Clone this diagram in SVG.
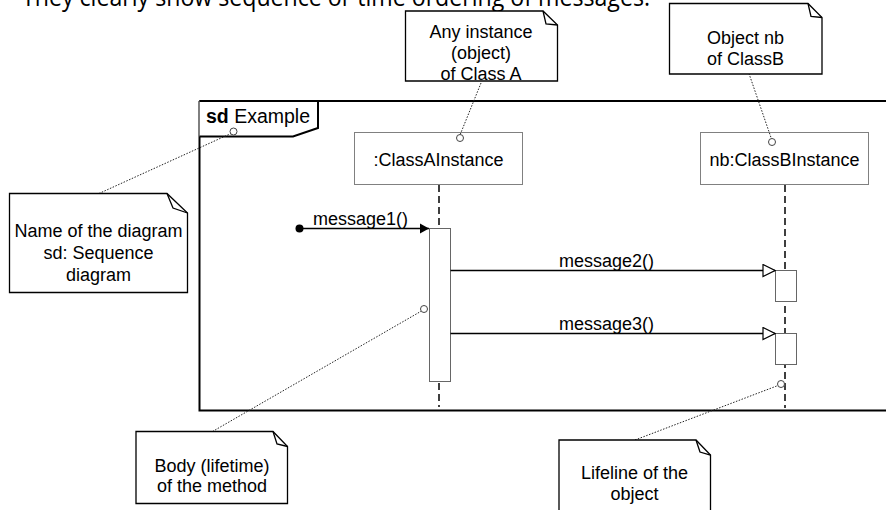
<svg xmlns="http://www.w3.org/2000/svg" width="886" height="510" viewBox="0 0 886 510">
<style>
text{font-family:"Liberation Sans",Arial,sans-serif;font-size:18px;fill:#000}
.c{text-anchor:middle}
.note{fill:#fff;stroke:#000;stroke-width:1.3}
.fold{fill:none;stroke:#000;stroke-width:1.3}
.head{fill:#fff;stroke:#808080;stroke-width:1}
.act{fill:#fff;stroke:#666;stroke-width:1}
.life{stroke:#000;stroke-width:1.5;stroke-dasharray:7 4;fill:none}
.dot{stroke:#222;stroke-width:1;stroke-dasharray:1.5 1.5;fill:none}
.pin{fill:#fff;stroke:#444;stroke-width:1}
.msg{stroke:#000;stroke-width:1.3;fill:none}
</style>
<defs>
<marker id="filled" markerWidth="10" markerHeight="12" refX="9" refY="6" orient="auto" markerUnits="userSpaceOnUse">
<path d="M0,1 L9,6 L0,11 Z" fill="#000"/>
</marker>
<marker id="open" markerWidth="14" markerHeight="14" refX="13" refY="7" orient="auto" markerUnits="userSpaceOnUse">
<path d="M1,1 L13,7 L1,13 Z" fill="#fff" stroke="#000" stroke-width="1.2"/>
</marker>
</defs>
<rect width="886" height="510" fill="#fff"/>
<text x="22" y="6" style="font-family:'Open Sans','DejaVu Sans',sans-serif;font-size:25px" textLength="628" lengthAdjust="spacingAndGlyphs">They clearly show sequence or time ordering of messages.</text>

<g id="frame">
<path d="M199.5,101 H886 M199.5,101 V410.5 H886" fill="none" stroke="#000" stroke-width="2"/>
<path d="M199.5,101 H318 V128 L293,136.5 H199.5" fill="#fff" stroke="#000" stroke-width="2"/>
<text x="206" y="123" style="font-size:19.5px"><tspan font-weight="bold">sd</tspan> Example</text>
</g>

<g id="lifelineA">
<line class="life" x1="439" y1="185" x2="439" y2="407"/>
<rect class="head" x="354.5" y="132.5" width="168" height="52"/>
<text class="c" x="438.5" y="166">:ClassAInstance</text>
</g>
<g id="lifelineB">
<line class="life" x1="785" y1="185" x2="785" y2="408"/>
<rect class="head" x="700.5" y="132.5" width="168" height="52"/>
<text class="c" x="784.5" y="166">nb:ClassBInstance</text>
</g>

<g id="activationA"><rect class="act" x="429.5" y="228.5" width="21" height="153"/></g>
<g id="activationB1"><rect class="act" x="775.5" y="270.5" width="21" height="31"/></g>
<g id="activationB2"><rect class="act" x="775.5" y="333.5" width="21" height="31"/></g>

<g id="connectors">
<line class="msg" x1="299" y1="228.5" x2="429" y2="228.5" marker-end="url(#filled)"/>
<circle cx="299.5" cy="228.5" r="4" fill="#000"/>
<line class="msg" x1="450.5" y1="270.5" x2="775" y2="270.5" marker-end="url(#open)"/>
<line class="msg" x1="450.5" y1="333.5" x2="775" y2="333.5" marker-end="url(#open)"/>
<line class="dot" x1="481" y1="83" x2="460" y2="135"/>
<line class="dot" x1="745" y1="62" x2="771.5" y2="139"/>
<line class="dot" x1="99" y1="193.5" x2="231" y2="133.5"/>
<line class="dot" x1="212.5" y1="431.5" x2="421.5" y2="311"/>
<line class="dot" x1="635" y1="440" x2="778" y2="385.5"/>
<circle class="pin" cx="460" cy="138" r="3.5"/>
<circle class="pin" cx="772" cy="142" r="3.5"/>
<circle class="pin" cx="233.5" cy="131.5" r="3.5"/>
<circle class="pin" cx="424" cy="309" r="3.5"/>
<circle class="pin" cx="781" cy="384" r="3.5"/>
</g>

<g id="msg-labels">
<text x="313" y="225">message1()</text>
<text x="559" y="267">message2()</text>
<text x="559" y="330">message3()</text>
</g>

<g id="noteA">
<path class="note" d="M405.5,11 H543 L557.5,25 V81 H405.5 Z"/>
<path class="fold" d="M543,11 L546,24 L557.5,25"/>
<text class="c" x="481" y="37.5">Any instance</text>
<text class="c" x="481" y="58.5">(object)</text>
<text class="c" x="481" y="80">of Class A</text>
</g>
<g id="noteB">
<path class="note" d="M669.5,3.5 H808 L822,17.5 V74 H669.5 Z"/>
<path class="fold" d="M808,3.5 L811,16.5 L822,17.5"/>
<text class="c" x="745.5" y="43.5">Object nb</text>
<text class="c" x="745.5" y="65">of ClassB</text>
</g>
<g id="noteName">
<path class="note" d="M9.5,193.5 H167 L187.5,213 V292.5 H9.5 Z"/>
<path class="fold" d="M167,193.5 L173,208 L187.5,213"/>
<text class="c" x="98.5" y="236.5">Name of the diagram</text>
<text class="c" x="98.5" y="259">sd: Sequence</text>
<text class="c" x="98.5" y="281">diagram</text>
</g>
<g id="noteBody">
<path class="note" d="M136,431.5 H273 L287.5,446.5 V503.5 H136 Z"/>
<path class="fold" d="M273,431.5 L277,444 L287.5,446.5"/>
<text class="c" x="212" y="471.5">Body (lifetime)</text>
<text class="c" x="212" y="492">of the method</text>
</g>
<g id="noteLifeline">
<path class="note" d="M559,440 H696 L710.5,455 V515 H559 Z"/>
<path class="fold" d="M696,440 L700,452 L710.5,455"/>
<text class="c" x="634.5" y="479">Lifeline of the</text>
<text class="c" x="634.5" y="499.5">object</text>
</g>
</svg>
